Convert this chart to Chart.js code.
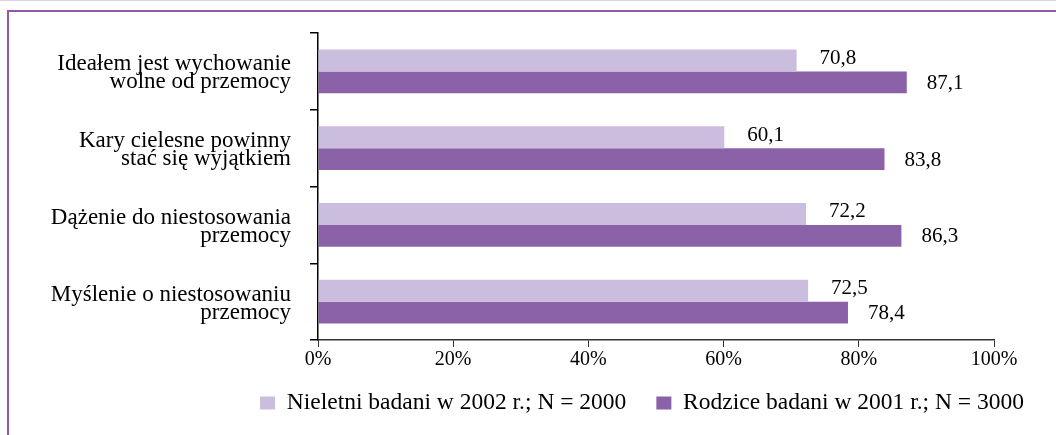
<!DOCTYPE html>
<html>
<head>
<meta charset="utf-8">
<script src="https://cdn.jsdelivr.net/npm/chart.js@4/dist/chart.umd.min.js"></script>
<style>
html,body{margin:0;padding:0;background:#fff;width:1056px;height:435px;overflow:hidden;}
#topline{position:absolute;left:0;top:0;width:1056px;height:1px;background:#ddd0e6;}
#frame{position:absolute;left:7px;top:10px;right:0;bottom:-5px;border-top:2px solid #9158a8;border-left:2px solid #9158a8;}
#wrap{position:absolute;left:9px;top:12px;width:1047px;height:423px;}
</style>
</head>
<body>
<div id="topline"></div>
<div id="frame"></div>
<div id="wrap"><canvas id="c" width="1047" height="423"></canvas></div>
<script>
const categories = [
  ['Ideałem jest wychowanie', 'wolne od przemocy'],
  ['Kary cielesne powinny', 'stać się wyjątkiem'],
  ['Dążenie do niestosowania', 'przemocy'],
  ['Myślenie o niestosowaniu', 'przemocy']
];
const seriesNames = ['Nieletni badani w 2002 r.; N = 2000', 'Rodzice badani w 2001 r.; N = 3000'];
const youthValues = [70.8, 60.1, 72.2, 72.5];
const parentValues = [87.1, 83.8, 86.3, 78.4];
const xTickLabels = ['0%', '20%', '40%', '60%', '80%', '100%'];

const FONT = "'Liberation Serif', 'Times New Roman', serif";
const LIGHT = '#cbbddd';
const DARK = '#8b62a8';

const valueLabels = {
  id: 'valueLabels',
  afterDatasetsDraw(chart) {
    const ctx = chart.ctx;
    ctx.save();
    ctx.font = '21px ' + FONT;
    ctx.fillStyle = '#000';
    ctx.textAlign = 'left';
    ctx.textBaseline = 'middle';
    chart.data.datasets.forEach((ds, di) => {
      const meta = chart.getDatasetMeta(di);
      meta.data.forEach((bar, i) => {
        const txt = ds.data[i].toFixed(1).replace('.', ',');
        const dx = di === 0 ? 23 : 20;
        const dy = di === 0 ? -2 : 1;
        ctx.fillText(txt, bar.x + dx, bar.y + dy);
      });
    });
    ctx.restore();
  }
};

new Chart(document.getElementById('c'), {
  type: 'bar',
  data: {
    labels: categories,
    datasets: [
      { label: seriesNames[0], data: youthValues, backgroundColor: LIGHT, borderWidth: 0 },
      { label: seriesNames[1], data: parentValues, backgroundColor: DARK, borderWidth: 0 }
    ]
  },
  options: {
    indexAxis: 'y',
    responsive: false,
    animation: false,
    datasets: { bar: { categoryPercentage: 0.572, barPercentage: 1.0 } },
    layout: { padding: { left: 0, top: 21, right: 2, bottom: 10.25 } },
    scales: {
      x: {
        min: 0, max: 100,
        ticks: {
          stepSize: 20,
          callback: (v, i) => xTickLabels[i],
          font: { family: FONT, size: 20 },
          color: '#000',
          padding: 1,
          maxRotation: 0
        },
        grid: { drawOnChartArea: false, drawTicks: true, tickLength: 7, color: '#333', lineWidth: 1 },
        border: { display: true, color: '#333', width: 1.5 },
        afterFit: (s) => { s.height = 21.25; s._computeLabelArea = () => undefined; }
      },
      y: {
        offset: true,
        ticks: {
          font: { family: FONT, size: 23, lineHeight: '18px' },
          color: '#000',
          padding: 19,
          labelOffset: 2,
          crossAlign: 'near'
        },
        grid: { offset: true, drawOnChartArea: false, drawTicks: true, tickLength: 8, color: '#000', lineWidth: 1.5 },
        border: { display: true, color: '#000', width: 1.5 },
        afterFit: (s) => { s.width = 309; s.paddingTop = 0; s.paddingBottom = 0; }
      },
      y2: {
        type: 'linear',
        position: 'right',
        grid: { display: false },
        ticks: { display: false },
        border: { display: false },
        afterFit: (s) => { s.width = 60; s.paddingTop = 0; s.paddingBottom = 0; }
      }
    },
    plugins: {
      legend: {
        position: 'bottom',
        align: 'end',
        labels: {
          font: { family: FONT, size: 23.5 },
          color: '#000',
          boxWidth: 15,
          boxHeight: 13,
          padding: 30
        }
      },
      tooltip: { enabled: false }
    }
  },
  plugins: [valueLabels]
});
</script>
</body>
</html>
